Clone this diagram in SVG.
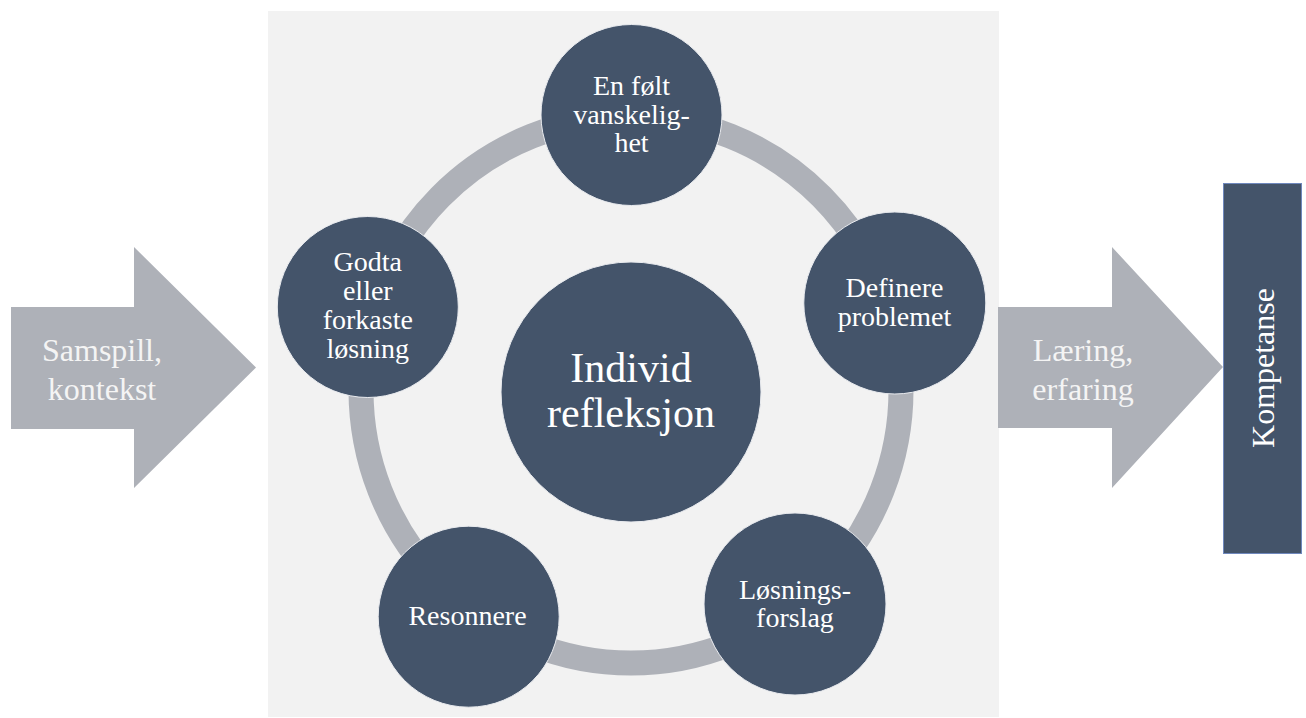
<svg xmlns="http://www.w3.org/2000/svg" width="1306" height="718" viewBox="0 0 1306 718">
  <style>
    .node { fill: #44546a; stroke: #e9ebef; stroke-width: 1; }
    .arrow { fill: #aeb1b8; }
    .ring { fill: none; stroke: #aeb1b8; stroke-width: 25; }
    .lbl { font-family: "Liberation Serif", "Times New Roman", serif; fill: #ffffff; text-anchor: middle; }
    .small { font-size: 28px; }
    .big { font-size: 42px; }
    .side { font-size: 32px; fill: #f4f4f4; }
  </style>

  <!-- page background and central panel -->
  <rect x="0" y="0" width="1306" height="718" fill="#ffffff"/>
  <rect id="panel" x="268" y="11" width="731" height="706" fill="#f2f2f2"/>

  <!-- cycle ring linking the five steps -->
  <g id="connectors">
    <ellipse class="ring" cx="631" cy="390" rx="270" ry="273"/>
  </g>

  <!-- input arrow -->
  <g id="input-arrow">
    <path class="arrow" d="M11,307 L134,307 L134,247 L256,367.5 L134,488 L134,429 L11,429 Z"/>
    <text class="lbl side" x="102" y="361">Samspill,</text>
    <text class="lbl side" x="102" y="400">kontekst</text>
  </g>

  <!-- output arrow -->
  <g id="output-arrow">
    <path class="arrow" d="M998,307 L1112,307 L1112,247 L1223,367 L1112,488 L1112,428 L998,428 Z"/>
    <text class="lbl side" x="1083" y="361">Læring,</text>
    <text class="lbl side" x="1083" y="400">erfaring</text>
  </g>

  <!-- result box -->
  <g id="kompetanse">
    <rect x="1223.5" y="183.5" width="78" height="370" fill="#44546a" stroke="#6f88bd" stroke-width="1"/>
    <text class="lbl" style="font-size:32px" transform="translate(1274,368) rotate(-90)">Kompetanse</text>
  </g>

  <!-- centre -->
  <g id="node-center">
    <circle class="node" cx="631" cy="392" r="130"/>
    <text class="lbl big" x="631" y="381.5">Individ</text>
    <text class="lbl big" x="631" y="426.5">refleksjon</text>
  </g>

  <!-- steps around the ring -->
  <g id="node-top">
    <circle class="node" cx="631.5" cy="115" r="90.5"/>
    <text class="lbl small" x="631.5" y="95">En følt</text>
    <text class="lbl small" x="631.5" y="123.5">vanskelig-</text>
    <text class="lbl small" x="631.5" y="152">het</text>
  </g>

  <g id="node-right">
    <circle class="node" cx="894.8" cy="303" r="91"/>
    <text class="lbl small" x="894.5" y="297">Definere</text>
    <text class="lbl small" x="894.5" y="325.5">problemet</text>
  </g>

  <g id="node-bottom-right">
    <circle class="node" cx="795" cy="604" r="91"/>
    <text class="lbl small" x="795" y="598.5">Løsnings-</text>
    <text class="lbl small" x="795" y="627">forslag</text>
  </g>

  <g id="node-bottom-left">
    <circle class="node" cx="468.7" cy="616.7" r="90.5"/>
    <text class="lbl small" x="467.5" y="625">Resonnere</text>
  </g>

  <g id="node-left">
    <circle class="node" cx="367.8" cy="307" r="90.5"/>
    <text class="lbl small" x="367.8" y="271">Godta</text>
    <text class="lbl small" x="367.8" y="300">eller</text>
    <text class="lbl small" x="367.8" y="328.5">forkaste</text>
    <text class="lbl small" x="367.8" y="357.5">løsning</text>
  </g>
</svg>
